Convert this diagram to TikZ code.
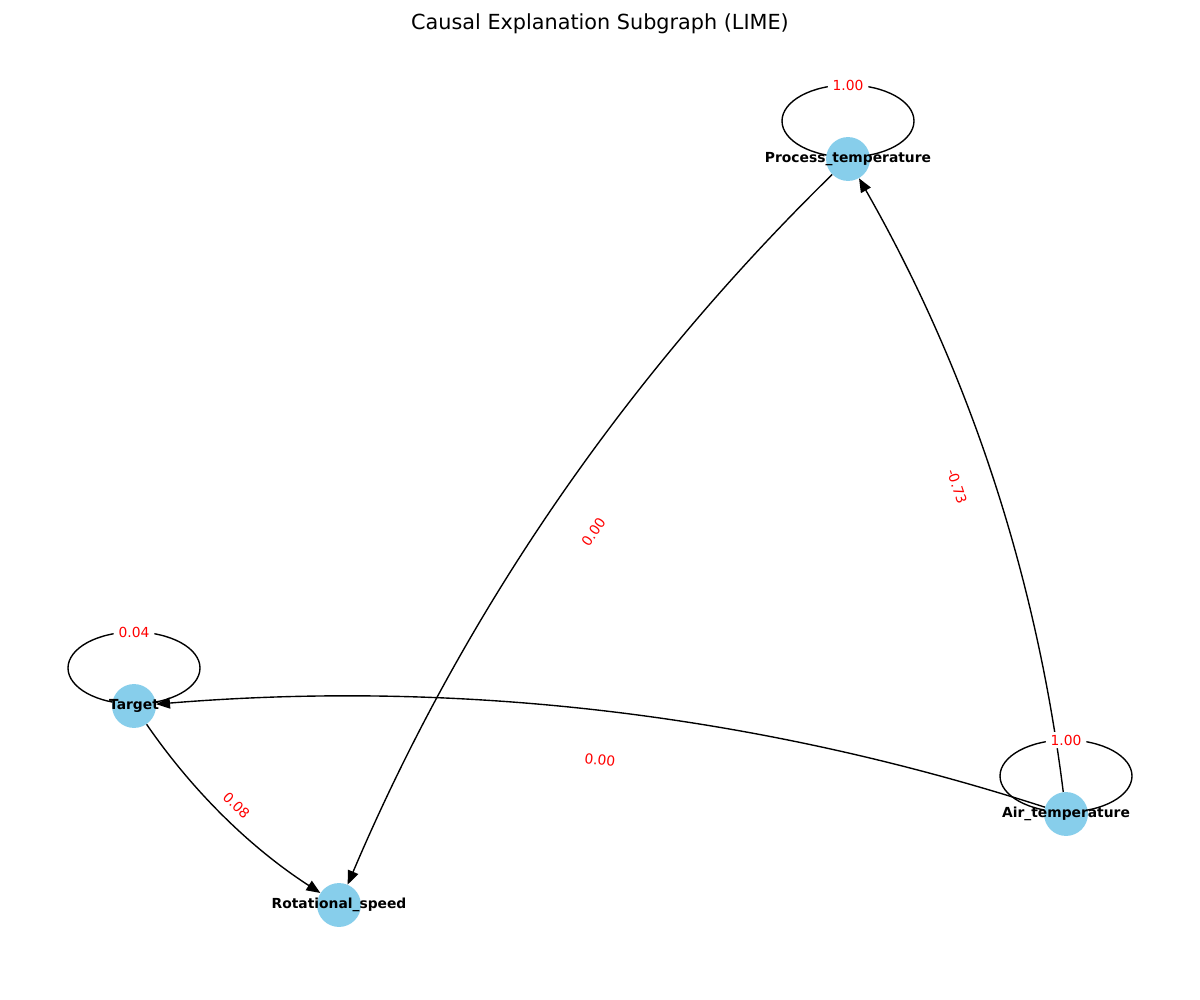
\documentclass[tikz,border=0pt]{standalone}
\usepackage{fontspec}
\setmainfont{DejaVu Sans}
\usetikzlibrary{arrows.meta, positioning, calc}
\definecolor{nodeblue}{HTML}{87CEEB}

\begin{document}
\begin{tikzpicture}[x=0.01in, y=-0.01in,
  var/.style={circle, fill=nodeblue, minimum size=31.7pt, inner sep=0pt},
  varname/.style={font=\fontsize{10}{12}\selectfont\bfseries},
  elab/.style={font=\fontsize{10}{12}\selectfont, text=red, fill=white, inner xsep=3.5pt, inner ysep=2pt, rounded corners=2pt},
  arr/.style={-{Triangle[length=10pt, width=8pt]}, line width=1pt},
  selfloop/.style={line width=1pt}]
  \useasboundingbox (0,0) rectangle (1200,1000);
  \node[font=\fontsize{15}{18}\selectfont] (title) at (600,24) {Causal Explanation Subgraph (LIME)};

  % centres
  \coordinate (procc) at (848,159);
  \coordinate (targetc) at (134,706);
  \coordinate (airc) at (1066,814);
  \coordinate (rotc) at (339,905);

  % self loops
  \draw[selfloop] ($(procc)+(0,-38)$) ellipse [x radius=66, y radius=36];
  \draw[selfloop] ($(targetc)+(0,-38)$) ellipse [x radius=66, y radius=36];
  \draw[selfloop] ($(airc)+(0,-38)$) ellipse [x radius=66, y radius=36];

  % nodes
  \node[var] (proc) at (procc) {};
  \node[var] (target) at (targetc) {};
  \node[var] (air) at (airc) {};
  \node[var] (rot) at (rotc) {};

  % edges
  \draw[arr] (proc) to[bend right=11.3, looseness=0.87] (rot);
  \draw[arr] (air) to[bend right=11.3, looseness=0.87] (proc);
  \draw[arr] (air) to[bend right=11.3, looseness=0.87] (target);
  \draw[arr] (target) to[bend right=11.3, looseness=0.87] (rot);

  % weights
  \path (proc) -- node[elab, sloped] {0.00} (rot);
  \path (air) -- node[elab, sloped] {-0.73} (proc);
  \path (air) -- node[elab, sloped] {0.00} (target);
  \path (target) -- node[elab, sloped] {0.08} (rot);
  \node[elab] (proc-w) at ($(procc)+(0,-74)$) {1.00};
  \node[elab] (target-w) at ($(targetc)+(0,-74)$) {0.04};
  \node[elab] (air-w) at ($(airc)+(0,-74)$) {1.00};

  % names
  \node[varname] (proc-name) at (proc) {Process\_temperature};
  \node[varname] (target-name) at (target) {Target};
  \node[varname] (air-name) at (air) {Air\_temperature};
  \node[varname] (rot-name) at (rot) {Rotational\_speed};
\end{tikzpicture}
\end{document}
